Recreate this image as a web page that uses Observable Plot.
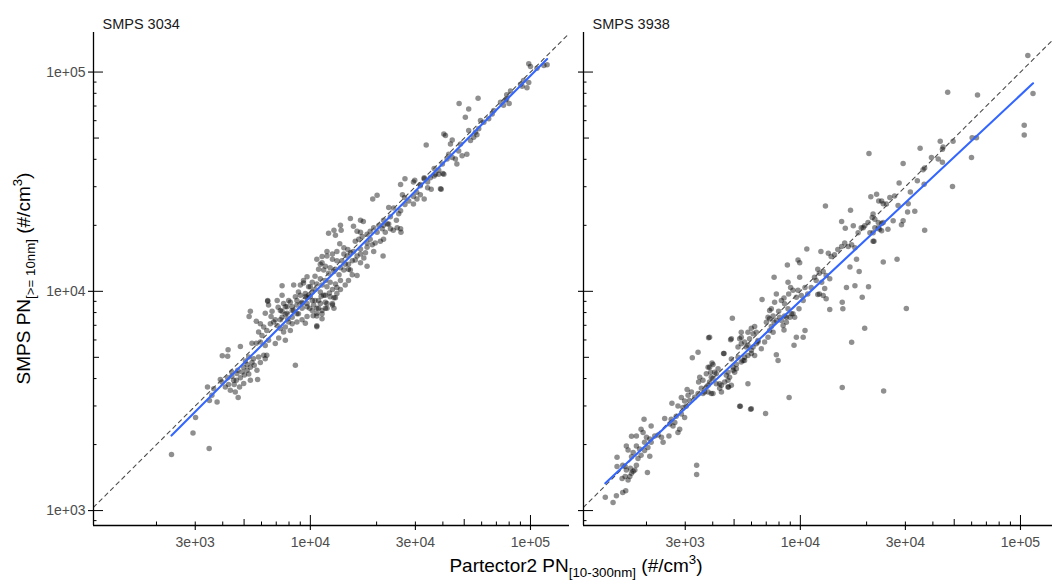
<!DOCTYPE html>
<html>
<head>
<meta charset="utf-8">
<script src="https://cdn.jsdelivr.net/npm/d3@7"></script>
<script src="https://cdn.jsdelivr.net/npm/@observablehq/plot@0.6"></script>
<style>
  html, body { margin: 0; padding: 0; background: #fff; overflow: hidden; }
  #chart { width: 1052px; height: 583px; overflow: hidden; position: relative; }
  #chart svg { max-width: none !important; display: block; }
</style>
</head>
<body>
<div id="chart"></div>
<script>
// Panels (one per SMPS instrument)
const panels = ["SMPS 3034", "SMPS 3938"];

// [Partector2 PN (10-300 nm), SMPS PN (>= 10 nm)] in #/cm³ — SMPS 3034
const pairs3034 = [
  [2340,1800],[3470,1920],[2930,2260],[3010,2660],[3480,3180],[3770,3130],[3410,3660],[3640,3590],[3570,3360],[4700,3280],
  [4560,3470],[4330,3540],[4110,3660],[3900,3960],[3970,3860],[4210,4040],[4400,4100],[4510,3760],[4610,3930],[4810,4040],
  [5020,4150],[5250,4200],[5760,3960],[4680,4360],[4900,4290],[5160,4360],[5340,4510],[5560,4600],[5070,4810],[5250,5020],
  [5520,4930],[5820,5020],[6140,5110],[6340,5110],[4810,5600],[4230,5410],[3980,5090],[4210,5060],[8550,4600],[5430,5800],
  [5680,5800],[5930,5870],[6240,5660],[6460,5980],[6930,5780],[7180,6130],[7700,5980],[5820,6520],[6030,6280],[6340,6630],
  [5680,7310],[5930,7110],[6140,6870],[6580,7110],[6810,7240],[7070,6980],[7310,6760],[7560,6520],[7700,6870],[8110,6630],
  [5340,8110],[5270,7680],[6240,7950],[6400,9010],[6630,7680],[7140,8460],[7440,8110],[7700,7850],[7890,7490],[8270,7620],
  [8400,8170],[8830,7910],[8690,8660],[9170,8370],[9490,7160],[10300,7740],[10700,6890],[9660,8810],[10200,9080],[10700,8370],
  [11300,8170],[11900,8810],[12600,8660],[12800,9340],[8830,9930],[9820,9600],[11500,9600],[13200,9770],[7840,8510],[7310,7410],
  [7560,8810],[7970,9080],[8270,8510],[8550,9440],[9170,8920],[9490,9440],[9930,8370],[10350,8660],[10900,9080],[11200,9490],
  [11700,8370],[12200,9820],[10700,7710],[11300,7490],[9660,7680],[9170,7410],[8690,7240],[8270,7110],[7970,7240],[7840,7950],
  [7440,7620],[6930,7410],[6700,8110],[6460,8660],[7070,9080],[7440,9600],
  [4400,4290],[4640,4220],[4480,3930],[4770,3660],[4980,3800],[5340,3930],[4250,3760],[5160,4640],[5430,4740],[4980,4510],
  [5720,4360],[5930,4740],[6240,4930],
  [9660,11650],[9310,11200],[9010,10700],[9820,10500],[10200,9930],[9660,9340],[8110,8920],[7700,8510],[7310,8170],[8270,8170],
  [8690,7910],[11900,8370],[12600,8810],[13700,10200],[14400,10700],[14900,11200],[15500,11900],
  [15700,15200],[16900,15600],[18100,16600],[19400,15200],[14900,13300],[14200,14800],[13200,15200],[12600,14800],[11900,15200],[11300,13500],
  [15200,12500],
  [26900,32600],[29800,32100],[32900,33000],[34100,31500],[36500,33600],[38300,34200],[40000,34500],[39300,29200],[35400,29200],[31600,30300],
  [30400,28300],[29400,27100],[26200,27600],[26800,26800],[20100,27400],[19200,26400],[22700,24100],[25700,23300],[25200,22600],[24600,21100],
  [15200,21500],[16900,21100],[17400,20800],[21500,21100],[22700,20300],[20500,20000],[21200,19300],[21900,18600],[23100,19300],[20100,18600],
  [23800,19000],[25700,19300],[25800,18600],[13700,20000],[13800,19000],[12100,18400],[13000,18000],[12800,19000],[15700,19800],[16300,18800],
  [16900,18600],[16600,17300],[16000,16900],[17200,17800],[18100,18200],[18700,18800],[19400,19500],[18700,17300],[19700,16600],[20800,16900],
  [21500,17300],[19100,16300],[18100,15900],[17800,15000],[21400,14500],[13600,16500],[14200,15800],[14800,15500],[15200,15000],[14700,14500],
  [16300,14500],[16900,14800],[17500,14200],[18100,13000],[16900,13500],[16000,13900],[15500,13800],[16300,11800],[10700,14000],[11300,14400],
  [11900,14500],[12600,14000],[13200,13800],[13900,13800],[14400,13300],[13700,12800],[13000,12600],[12300,12800],[11700,13000],[11100,13300],
  [10900,12600],[11500,12500],[12100,12100],[12800,12300],[13500,11900],[14200,12500],[14900,12600],[10500,11700],[11100,11400],[11700,11200],
  [12300,11000],[13000,10800],[13700,11200],[13200,10400],[12600,10200],[11900,10500],[11300,10700],[10700,10800],[10200,11000],[10000,10500],
  [10500,10200],[11100,9930],[11700,9600],[12300,9440],[13000,9340],[11700,8920],[11100,8810],[10500,9080],[10000,9440],[9490,9770],
  [9010,9600],[8690,9080],[9170,8810],[9660,8510],[10200,8170],[10700,7950],[11300,7910],[10900,8370],[7440,10600],[8400,10700],
  [9310,10900],[6400,9080],[10700,6960],[12800,8370],
  [98200,109000],[100000,106000],[107000,104000],[119000,108000],[115000,107000],[96400,84700],[91700,86200],[98200,89700],[93000,91500],[90100,88000],
  [81100,81900],[78000,78800],[77000,74500],[80000,71800],[75400,70500],[73100,72800],[78000,75600],[47400,71800],[57800,75900],[52400,67900],
  [50600,62200],[68100,66700],[67000,64400],[64600,61200],[61400,59100],[59300,60100],[58200,55100],[56200,53200],[52400,54100],[55200,50400],
  [53400,48700],[57100,51800],[40400,52200],[41100,51300],[44100,49000],[43300,47000],[33600,46500],[48100,47000],[47200,43600],[48900,41500],
  [45600,40100],[46300,38100],[42500,42200],[44100,40800],[51400,42200],[41800,40100],[39800,38100],[36500,36300],[38300,35700],[37000,34200],
  [40400,34200],[35100,33000],[39000,29400],[29400,31500],[25700,30700],[31600,30700],[32900,32600],[34100,29700],[31600,27600],[30500,26400],
  [32900,26400],[29400,25000],[28000,25800],[26900,24900],[23900,24000],[23100,21900],[22400,20300],[24800,19500],[21500,20000]
];

// [Partector2 PN (10-300 nm), SMPS PN (>= 10 nm)] in #/cm³ — SMPS 3938
const pairs3938 = [
  [1410,1090],[1300,1150],[1460,1170],[1560,1210],[1610,1230],[1550,1400],[1600,1430],[1650,1380],[1680,1430],[1710,1480],
  [1740,1510],[1690,1560],[1620,1530],[1560,1610],[1600,1590],[1770,1530],[1800,1610],[1470,1590],[1470,1750],[2020,1490],
  [1710,1760],[1650,1890],[1740,1840],[1830,1730],[1890,1790],[1960,1880],[2030,1940],[2070,1770],[1860,1910],[1800,1970],
  [1620,1970],[1710,2180],[1800,2190],[1890,2350],[1930,2270],[2000,2160],[2070,2120],[2100,2050],[1960,2050],[2180,2190],
  [2260,2210],[2340,2160],[2380,2050],[2530,2190],[2100,2430],[1950,2610],[2420,2630],[2590,2610],[2550,2480],[2690,2520],
  [2730,2690],[2640,2430],[2830,2350],[2780,2270],[2610,3090],[2880,3280],[2980,3160],[2780,3000],[2930,2950],[3030,2990],
  [3090,3360],[3140,3180],[2880,2760],[2980,2660],[3060,3570],[3200,3470],[3310,3290],[3430,3420],[3550,3610],[3670,3470],
  [3940,3420],[3810,3730],[3490,4060],[3450,3860],[3610,3930],[3740,4210],[3870,4510],[3970,4710],[3910,4280],[4150,4210],
  [4230,4440],[4380,3470],[4300,3790],[4010,4000],[3230,4980],[3430,5280],[3830,6140],[4480,5200],[4610,4140],[4690,3930],
  [4720,3660],[4860,3730],[5030,4280],[5120,4440],[4950,4510],[5210,5010],[5490,4840],[4860,4910],[4820,6010],[5300,6080],
  [5390,6510],[5780,5670],[5990,5380],[6310,5770],[5780,5100],[5580,5010],[6200,5100],[6420,5970],[5780,3790],[5340,2990],
  [5940,2900],[3380,1610],[3380,1460],
  [20900,27000],[22200,27700],[23400,25800],[25500,26800],[26800,27200],[24600,25000],[13000,24500],[16900,23400],[15400,20800],[16000,19400],
  [17400,19900],[18300,18500],[18900,19500],[19600,19900],[20300,20600],[21200,21700],[21800,21300],[22600,19500],[23800,20600],[25000,19200],
  [26400,21000],[23400,18900],[21400,18500],[21600,16900],[23800,13600],[27500,14000],[15900,16600],[16500,16000],[17100,16300],[17700,15800],
  [15400,16000],[14800,15500],[14300,14700],[13800,14400],[13400,14900],[18000,14000],[10700,15600],[12400,15200],[9760,13900],[9930,13500],
  [8730,13200],[16800,12900],[18500,12300],[12000,12600],[12200,12100],[12700,12300],[13100,11800],[11600,11600],[13600,11400],[11800,11200],
  [12500,11000],[12900,10300],[12200,9730],[12700,9560],[13100,9240],[12000,9660],[16200,10400],[17700,10600],[20400,10500],[19100,9390],
  [15500,8910],[15600,8320],[13600,8260],[8790,11000],[9030,10400],[9260,10100],[8850,9730],[8430,9330],[9590,9390],[10100,9560],
  [9760,10100],[10300,9070],[10800,9730],[11200,10400],[10500,10400],[9930,11600],[7600,11600],[7780,9730],[8200,9070],[7640,8910],
  [7380,8320],[7250,8170],[8480,8770],[8790,8320],[9100,7900],[9420,7620],[8640,7620],[8200,7360],[7970,8110],[6700,9170],
  [9860,8320],[8430,6670],[9590,6180],[10300,6180],[10500,6630],[9360,5670],[4910,7540],[6200,6910],[5990,6790],[5780,6510],
  [6100,6400],[6310,6510],[5880,6080],[5580,5870],[5390,6180],[5390,5770],[5210,5570],[5680,5570],[6100,5570],[6420,5870],
  [6650,5470],[6880,5870],[7130,6180],[7250,6630],[7520,6510],[7380,6910],[7010,7230],[7130,7620],[7600,7230],[4860,6080],
  [3870,6180],[4500,5200],[5120,4640],[5390,4760],[5580,4840],[5990,5200],[4950,4360],[4690,4280],[4770,4060],[4530,3860],
  [4380,3730],[4150,3790],[3940,4060],[3810,4510],[4010,4640],[4080,4280],[3870,3860],[3740,3660],[3610,3420],[3810,3470],
  [4010,3420],[4300,3610],[4690,3660],[7780,5140],[7920,4840],[5300,2990],[5990,2910],[6950,2770],[8890,3280],[15500,3640],
  [23900,3510],[19600,6790],[17100,5850],
  [7250,7490],[7520,7710],[7780,7360],[8050,7620],[8480,7710],[8960,7620],[9260,7910],[8640,7230],[8350,6980],
  [108000,119000],[114000,79800],[104000,57200],[104000,51600],[46700,80900],[63800,78600],[60300,50100],[63100,50100],[59900,40800],[43200,48400],
  [44500,45500],[44200,44400],[49400,48400],[35000,44900],[39400,40800],[42300,40100],[44200,38800],[29300,38300],[36700,36500],[36100,35800],
  [20500,42500],[34000,31900],[36500,30800],[28100,31200],[49100,30100],[22700,25800],[23800,25100],[31600,28400],[27800,24600],[30900,25100],
  [33100,23200],[30700,23000],[29300,21000],[28800,20100],[36700,19000],[21400,22500],[22600,20600],[23400,20400],[21800,19500],[22900,19200],
  [20700,18500],[19300,19500],[21400,16900],[30300,8350]
];

// Axis breaks and their printed labels
const xBreaks = [3e3, 1e4, 3e4, 1e5];
const xBreakLabels = ["3e+03", "1e+04", "3e+04", "1e+05"];
const yBreaks = [1e3, 1e4, 1e5];
const yBreakLabels = ["1e+03", "1e+04", "1e+05"];

// Shared (fixed) scale limits for both panels
const xDomain = [1035, 150400];
const yDomain = [855, 151500];

// ---------------------------------------------------------------------------
const rows = [
  ...pairs3034.map(([x, y]) => ({panel: panels[0], x, y})),
  ...pairs3938.map(([x, y]) => ({panel: panels[1], x, y}))
];

// Ordinary least squares on log10–log10 values, drawn over each panel's x range
function fitLine(pairs, panel) {
  const lx = pairs.map(d => Math.log10(d[0]));
  const ly = pairs.map(d => Math.log10(d[1]));
  const mx = d3.mean(lx), my = d3.mean(ly);
  const b = d3.sum(lx, (v, i) => (v - mx) * (ly[i] - my)) / d3.sum(lx, v => (v - mx) ** 2);
  const a = my - b * mx;
  const [x0, x1] = d3.extent(pairs, d => d[0]);
  return [x0, x1].map(x => ({panel, x, y: 10 ** (a + b * Math.log10(x))}));
}
const fits = [...fitLine(pairs3034, panels[0]), ...fitLine(pairs3938, panels[1])];

// 1:1 reference line
const identity = xDomain.map(v => ({x: v, y: v}));

// Log tick positions (1–9 × 10^k) inside a domain
function logTickValues([lo, hi]) {
  const out = [];
  for (let e = Math.floor(Math.log10(lo)); e <= Math.ceil(Math.log10(hi)); ++e)
    for (let m = 1; m <= 9; ++m) {
      const v = m * 10 ** e;
      if (v >= lo && v <= hi) out.push({v, m});
    }
  return out;
}
const xLog = logTickValues(xDomain);
const yLog = logTickValues(yDomain);
const lenOf = m => (m === 1 ? 10 : m === 5 ? 6 : 3.5);

// Layout
const width = 1060, height = 583;
const marginLeft = 93, marginRight = 1, marginTop = 32, marginBottom = 58;
const panelGap = 14;
const step = Math.floor((width - marginLeft - marginRight + panelGap) / panels.length);
const frameW = step - panelGap;
const frameH = height - marginTop - marginBottom;
const font = "'Liberation Sans', Arial, Helvetica, sans-serif";

const logTickMarks = [10, 6, 3.5].flatMap(len => [
  Plot.tickX(xLog.filter(t => lenOf(t.m) === len), {x: "v", insetTop: frameH - len, stroke: "black", strokeWidth: 1}),
  Plot.tickY(yLog.filter(t => lenOf(t.m) === len), {y: "v", insetRight: frameW - len, stroke: "black", strokeWidth: 1})
]);

const chart = Plot.plot({
  width, height, marginLeft, marginRight, marginTop, marginBottom,
  style: {fontFamily: font, background: "white"},
  fx: {domain: panels, axis: null, paddingInner: panelGap / step, paddingOuter: 0, label: null},
  x: {type: "log", domain: xDomain, label: null},
  y: {type: "log", domain: yDomain, label: null},
  marks: [
    Plot.dot(rows, {fx: "panel", x: "x", y: "y", r: 2.75, fill: "black", fillOpacity: 0.44, stroke: "none"}),
    Plot.line(identity, {x: "x", y: "y", stroke: "#4d4d4d", strokeWidth: 1.1, strokeDasharray: "4,4", clip: true}),
    Plot.line(fits, {fx: "panel", x: "x", y: "y", stroke: "#3366FF", strokeWidth: 2.1}),
    ...logTickMarks,
    Plot.axisX({ticks: xBreaks, tickSize: 5, tickPadding: 6.5, label: null,
      tickFormat: d => xBreakLabels[xBreaks.indexOf(d)], fontSize: 14, fill: "#4d4d4d", stroke: "black", strokeWidth: 1.1}),
    Plot.axisY({ticks: yBreaks, tickSize: 5, label: null, tickFormat: () => "", facetAnchor: null,
      stroke: "black", strokeWidth: 1.1}),
    Plot.axisY({ticks: yBreaks, tickSize: 0, tickPadding: 8, label: null,
      tickFormat: d => yBreakLabels[yBreaks.indexOf(d)], fontSize: 14, fill: "#4d4d4d"}),
    Plot.ruleY([yDomain[0]], {stroke: "black", strokeWidth: 1.3}),
    Plot.ruleX([xDomain[0]], {stroke: "black", strokeWidth: 1.3}),
    Plot.text(panels, {fx: d => d, text: d => d, frameAnchor: "top-left", dx: 9, dy: -14,
      textAnchor: "start", fontSize: 14.5, fill: "#1a1a1a"})
  ]
});

document.getElementById("chart").appendChild(chart);

// Axis titles with subscripts / superscripts
const svg = d3.select(chart);
const mainSize = 19, subSize = 13.3;

const xTitle = svg.append("text")
  .attr("x", marginLeft + (width - marginLeft - marginRight) / 2)
  .attr("y", 572)
  .attr("text-anchor", "middle")
  .attr("fill", "black")
  .style("font-family", font)
  .style("font-size", mainSize + "px");
xTitle.append("tspan").text("Partector2 PN");
xTitle.append("tspan").attr("dy", 5).style("font-size", subSize + "px").text("[10-300nm]");
xTitle.append("tspan").attr("dy", -5).text(" (#/cm");
xTitle.append("tspan").attr("dy", -8).style("font-size", subSize + "px").text("3");
xTitle.append("tspan").attr("dy", 8).text(")");

const yTitle = svg.append("text")
  .attr("transform", `translate(30,${marginTop + frameH / 2}) rotate(-90)`)
  .attr("text-anchor", "middle")
  .attr("fill", "black")
  .style("font-family", font)
  .style("font-size", mainSize + "px");
yTitle.append("tspan").text("SMPS PN");
yTitle.append("tspan").attr("dy", 5).style("font-size", subSize + "px").text("[>= 10nm]");
yTitle.append("tspan").attr("dy", -5).text(" (#/cm");
yTitle.append("tspan").attr("dy", -8).style("font-size", subSize + "px").text("3");
yTitle.append("tspan").attr("dy", 8).text(")");
</script>
</body>
</html>
